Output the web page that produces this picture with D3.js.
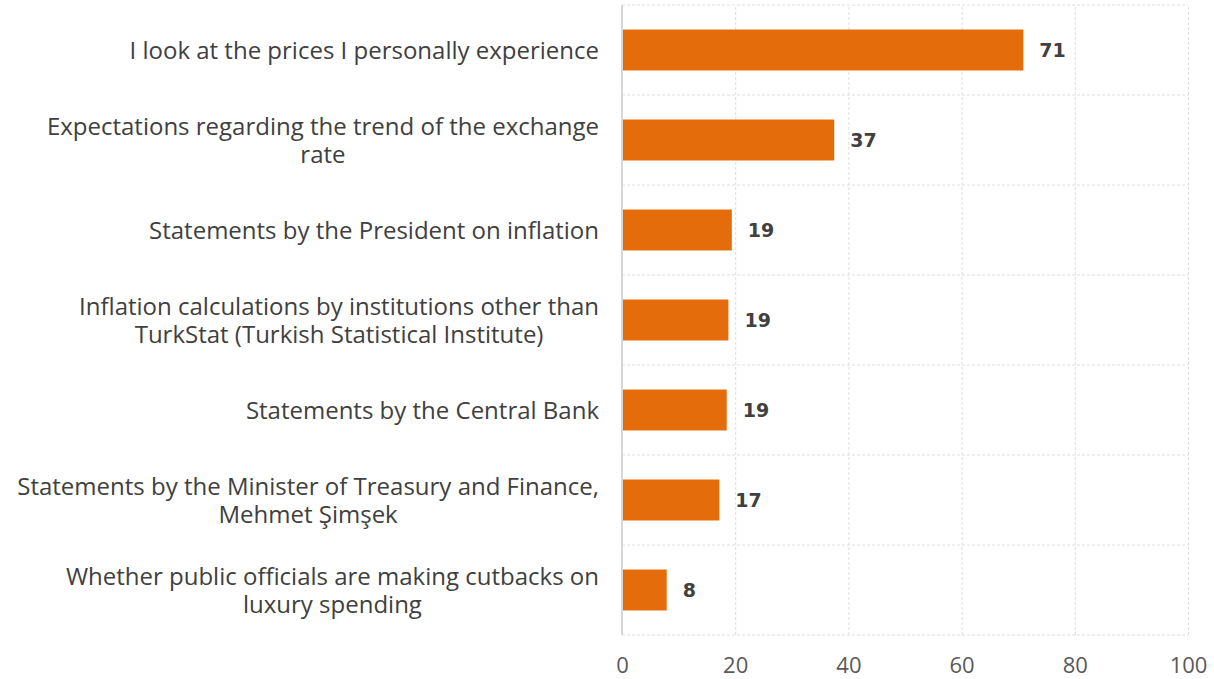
<!DOCTYPE html>
<html>
<head>
<meta charset="utf-8">
<script src="https://cdn.jsdelivr.net/npm/d3@7"></script>
<style>
    body { margin: 0; background: #fff; }
    .cat { font-family: "Open Sans", sans-serif; font-size: 24px; fill: #404040; }
    .lbl { font-family: "DejaVu Sans", sans-serif; font-weight: bold; font-size: 19px; fill: #404040; }
    .axis--x text { font-family: "Open Sans", sans-serif; font-size: 22px; fill: #595959; }
    .axis--x .domain { display: none; }
    .axis--x .tick line, .grid-h line { stroke: #dedede; stroke-dasharray: 3,2; }
    .bar { fill: #e46c0a; }
</style>
</head>
<body>
<div id="chart"></div>
<script>

// category labels, one array of lines per row
const categories = [
    ["I look at the prices I personally experience"],
    ["Expectations regarding the trend of the exchange", "rate"],
    ["Statements by the President on inflation"],
    ["Inflation calculations by institutions other than", "TurkStat (Turkish Statistical Institute)"],
    ["Statements by the Central Bank"],
    ["Statements by the Minister of Treasury and Finance,", "Mehmet Şimşek"],
    ["Whether public officials are making cutbacks on", "luxury spending"]
];

const values = [70.9, 37.5, 19.4, 18.8, 18.5, 17.2, 7.9];
const valueLabels = ["71", "37", "19", "19", "19", "17", "8"];

const xTicks = [0, 20, 40, 60, 80, 100];

const margin = { top: 5, right: 26, bottom: 44, left: 622 };
const fullWidth = 1214, fullHeight = 679;
const width = fullWidth - margin.left - margin.right;
const height = fullHeight - margin.top - margin.bottom;

const rows = categories.map((c, i) => i);

const svg = d3.select("#chart").append("svg")
    .attr("width", fullWidth)
    .attr("height", fullHeight);

const plot = svg.append("g")
    .attr("transform", `translate(${margin.left},${margin.top})`);

const x = d3.scaleLinear().domain([0, 100]).range([0, width]);
const y = d3.scaleBand().domain(rows).range([0, height])
    .paddingInner(0.545).paddingOuter(0.2725);

// horizontal separators between categories
plot.append("g").attr("class", "grid-h")
    .selectAll("line")
    .data(d3.range(rows.length + 1))
    .enter().append("line")
    .attr("x1", 0).attr("x2", width)
    .attr("y1", i => i * y.step())
    .attr("y2", i => i * y.step());

plot.append("g")
    .attr("class", "axis axis--x")
    .attr("transform", `translate(0,${height})`)
    .call(d3.axisBottom(x).tickValues(xTicks).tickSize(-height).tickPadding(22));

// solid line at zero
plot.append("line")
    .attr("x1", 0).attr("x2", 0)
    .attr("y1", 0).attr("y2", height)
    .attr("stroke", "#d6d6d6").attr("stroke-width", 2);

plot.selectAll(".bar")
    .data(rows)
    .enter().append("rect")
    .attr("class", "bar")
    .attr("x", 1)
    .attr("y", i => y(i))
    .attr("width", i => x(values[i]) - 1)
    .attr("height", y.bandwidth());

plot.selectAll(".lbl")
    .data(rows)
    .enter().append("text")
    .attr("class", "lbl")
    .attr("x", i => x(values[i]) + 16)
    .attr("y", i => y(i) + y.bandwidth() / 2)
    .attr("dy", "0.36em")
    .text(i => valueLabels[i]);

// category labels: block right aligned to the axis, lines centred in the block
const lineH = 28;
const catG = svg.append("g");
rows.forEach(i => {
    const lines = categories[i];
    const cy = margin.top + y(i) + y.bandwidth() / 2;
    const texts = lines.map((ln, j) => catG.append("text")
        .attr("class", "cat")
        .attr("text-anchor", "middle")
        .attr("y", cy + (j - (lines.length - 1) / 2) * lineH)
        .attr("dy", "0.36em")
        .text(ln));
    const maxW = d3.max(texts, s => s.node().getComputedTextLength());
    texts.forEach(s => s.attr("x", 599 - maxW / 2));
});

</script>
</body>
</html>
